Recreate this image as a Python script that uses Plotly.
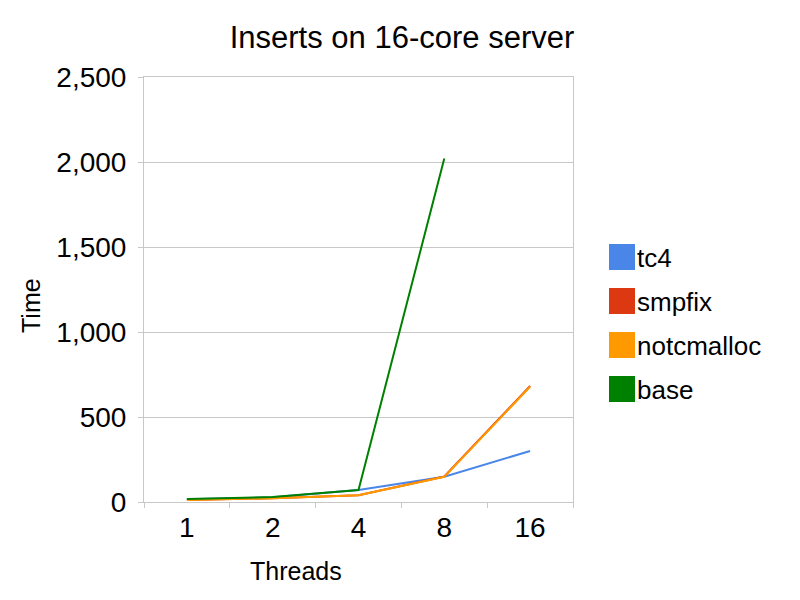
import plotly.graph_objects as go

threads = ["1", "2", "4", "8", "16"]
series_names = ["tc4", "smpfix", "notcmalloc", "base"]
tc4 = [16, 28, 70, 149, 300]
smpfix = [12, 22, 40, 150, 682]
notcmalloc = [12, 22, 40, 148, 678]
base = [17, 29, 70, 2020, None]
colors = ["#4a86e8", "#dc3912", "#ff9900", "#008000"]
values = [tc4, smpfix, notcmalloc, base]

FONT = "Liberation Sans, Arial, sans-serif"
W, H = 800, 600
ML, MR, MT, MB = 144, 227, 77, 98
PW = W - ML - MR
PH = H - MT - MB


def px_x(x):
    return (x - ML) / PW


def px_y(y):
    return (H - MB - y) / PH


fig = go.Figure()
for name, vals, col in zip(series_names, values, colors):
    fig.add_trace(go.Scatter(x=threads, y=vals, name=name, mode="lines",
                             line=dict(color=col, width=2), showlegend=False,
                             connectgaps=False))

# manual legend (square swatches like the reference)
shapes = []
annotations = []
leg_top = 244
step = 44
for i, (name, col) in enumerate(zip(series_names, colors)):
    y0px = leg_top + i * step
    y1px = y0px + 26
    shapes.append(dict(type="rect", xref="paper", yref="paper",
                       x0=px_x(609), x1=px_x(635),
                       y0=px_y(y1px), y1=px_y(y0px),
                       fillcolor=col, line=dict(width=0)))
    annotations.append(dict(xref="paper", yref="paper",
                            x=px_x(635), y=px_y(y0px + 14),
                            text=name, showarrow=False, xanchor="left", yanchor="middle",
                            font=dict(family=FONT, size=26, color="black")))

# axis titles placed as in the reference
annotations.append(dict(xref="paper", yref="paper", x=px_x(296), y=px_y(571),
                        text="Threads", showarrow=False, xanchor="center", yanchor="middle",
                        font=dict(family=FONT, size=25, color="black")))
annotations.append(dict(xref="paper", yref="paper", x=px_x(31), y=px_y(305),
                        text="Time", showarrow=False, xanchor="center", yanchor="middle",
                        textangle=-90,
                        font=dict(family=FONT, size=25, color="black")))

fig.update_layout(
    width=W, height=H,
    margin=dict(l=ML, r=MR, t=MT, b=MB),
    paper_bgcolor="white", plot_bgcolor="white",
    title=dict(text="Inserts on 16-core server", x=px_x(402), xref="paper", y=1 - 37 / H,
               yanchor="middle", xanchor="center",
               font=dict(family=FONT, size=31, color="black")),
    xaxis=dict(type="category", tickson="boundaries", ticks="outside", ticklen=5,
               range=[-0.5, 4.5],
               tickcolor="#c8c8c8", showgrid=False, showline=True, linecolor="#c8c8c8",
               linewidth=1, mirror=True, zeroline=False,
               tickfont=dict(family=FONT, size=28, color="black")),
    yaxis=dict(range=[0, 2500], dtick=500, tickformat=",", ticks="outside", ticklen=5,
               tickcolor="#c8c8c8", showgrid=True, gridcolor="#c8c8c8", gridwidth=1,
               showline=True, linecolor="#c8c8c8", mirror=True, zeroline=False,
               ticklabelstandoff=6,
               tickfont=dict(family=FONT, size=28, color="black")),
    shapes=shapes, annotations=annotations,
)

fig.write_html("out.html")
